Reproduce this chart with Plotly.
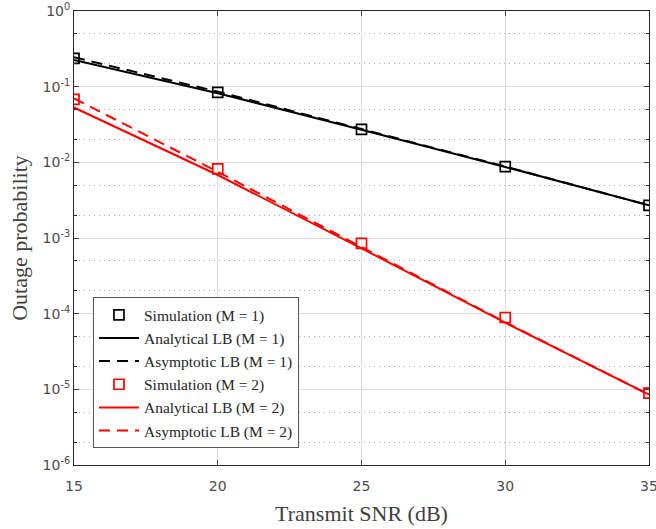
import plotly.graph_objects as go

snr = [15, 20, 25, 30, 35]

sim_m1 = [0.237, 0.084, 0.0273, 0.0088, 0.0027]
ana_m1 = [0.225, 0.082, 0.027, 0.0087, 0.0027]
asy_m1 = [0.245, 0.086, 0.0275, 0.0088, 0.0027]

sim_m2 = [0.068, 0.0082, 0.00085, 8.9e-5, 8.9e-6]
ana_m2 = [0.053, 0.0068, 0.00073, 7.6e-5, 8.5e-6]
asy_m2 = [0.070, 0.0075, 0.00076, 7.7e-5, 8.5e-6]

x_ticks = [15, 20, 25, 30, 35]
y_tickvals = [1e-6, 1e-5, 1e-4, 1e-3, 1e-2, 1e-1, 1]
y_ticktext = ["10<sup>-6</sup>", "10<sup>-5</sup>", "10<sup>-4</sup>", "10<sup>-3</sup>",
              "10<sup>-2</sup>", "10<sup>-1</sup>", "10<sup>0</sup>"]

BLACK = "#000000"
RED = "#ff0000"
DASH = "11px,7px"

fig = go.Figure()
fig.add_trace(go.Scatter(x=snr, y=sim_m1, mode="markers", name="Simulation (M = 1)",
                         marker=dict(symbol="square-open", size=10, color=BLACK, line=dict(width=1.7))))
fig.add_trace(go.Scatter(x=snr, y=ana_m1, mode="lines", name="Analytical LB (M = 1)",
                         line=dict(color=BLACK, width=2)))
fig.add_trace(go.Scatter(x=snr, y=asy_m1, mode="lines", name="Asymptotic LB (M = 1)",
                         line=dict(color=BLACK, width=2, dash=DASH)))
fig.add_trace(go.Scatter(x=snr, y=sim_m2, mode="markers", name="Simulation (M = 2)",
                         marker=dict(symbol="square-open", size=10, color=RED, line=dict(width=1.7))))
fig.add_trace(go.Scatter(x=snr, y=ana_m2, mode="lines", name="Analytical LB (M = 2)",
                         line=dict(color=RED, width=2)))
fig.add_trace(go.Scatter(x=snr, y=asy_m2, mode="lines", name="Asymptotic LB (M = 2)",
                         line=dict(color=RED, width=2, dash=DASH)))

axis_color = "#262626"
fig.update_layout(
    width=656, height=529,
    margin=dict(l=74, r=7, t=11, b=64, autoexpand=False),
    paper_bgcolor="white", plot_bgcolor="white",
    hovermode=False,
    legend=dict(
        x=0.033, y=0.037, xanchor="left", yanchor="bottom",
        bgcolor="white", bordercolor="#555555", borderwidth=1,
        font=dict(family="Liberation Serif", size=15.5, color="#262626"),
        tracegroupgap=0, itemwidth=40,
    ),
    xaxis=dict(
        range=[15, 35], tickvals=x_ticks, ticks="inside", ticklen=5,
        showline=True, linecolor=axis_color, linewidth=1, mirror="ticks",
        showgrid=True, gridcolor="#dcdcdc", gridwidth=1, zeroline=False,
        automargin=False, ticklabeloverflow="allow", ticklabelstandoff=8,
        tickfont=dict(family="DejaVu Sans", size=14, color="#4d4d4d"),
        title=dict(text="Transmit SNR (dB)", standoff=12,
                   font=dict(family="Liberation Serif", size=22, color="#404040")),
    ),
    yaxis=dict(
        type="log", range=[-6, 0], tickvals=y_tickvals, ticktext=y_ticktext,
        ticks="inside", ticklen=5,
        showline=True, linecolor=axis_color, linewidth=1, mirror="ticks",
        showgrid=True, gridcolor="#dcdcdc", gridwidth=1, zeroline=False,
        automargin=False, ticklabeloverflow="allow",
        tickfont=dict(family="DejaVu Sans", size=14, color="#4d4d4d"),
        minor=dict(ticks="inside", ticklen=3, tickcolor=axis_color, showgrid=True,
                   gridcolor="#a8a8a8", griddash="1px,4px", gridwidth=1),
        title=dict(text="Outage probability", standoff=8,
                   font=dict(family="Liberation Serif", size=22, color="#404040")),
    ),
)

fig.write_html("out.html", config={"displayModeBar": False},
               post_script="document.body.style.margin='0';document.body.style.overflow='hidden';")
